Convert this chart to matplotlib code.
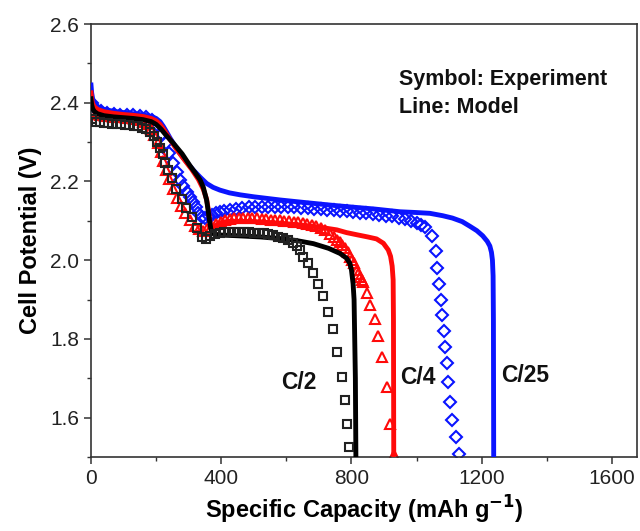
import matplotlib
matplotlib.use("Agg")
import matplotlib.pyplot as plt
from matplotlib.ticker import MultipleLocator, FormatStrFormatter

plt.rcParams['font.family'] = ['Liberation Sans', 'DejaVu Sans']

# ---- model curves (lines) ----
c25_model_cap = [0, 2, 5, 10, 20, 40, 70, 100, 130, 160, 185, 200, 212, 222, 232, 243, 258, 273,
                 293, 314, 335, 355, 375, 396, 425, 458, 500, 580, 650, 734, 800, 870, 949, 1000,
                 1041, 1080, 1110, 1140, 1164, 1185, 1203, 1217, 1225, 1230, 1233, 1235, 1236, 1237]
c25_model_v = [2.445, 2.425, 2.41, 2.398, 2.39, 2.383, 2.378, 2.375, 2.372, 2.369, 2.365, 2.36,
               2.352, 2.34, 2.326, 2.31, 2.29, 2.271, 2.25, 2.229, 2.211, 2.195, 2.185, 2.178,
               2.171, 2.166, 2.161, 2.153, 2.147, 2.14, 2.135, 2.13, 2.123, 2.121, 2.119, 2.113,
               2.107, 2.098, 2.086, 2.075, 2.062, 2.048, 2.036, 2.02, 2.0, 1.96, 1.85, 1.45]

c4_model_cap = [0, 2, 5, 10, 20, 40, 70, 100, 130, 160, 185, 200, 212, 225, 240, 260, 285, 310,
                330, 345, 355, 360, 364, 367, 370, 374, 380, 390, 405, 430, 500, 580, 650, 700,
                755, 785, 820, 850, 877, 898, 913, 920, 925, 928, 929, 930]
c4_model_v = [2.425, 2.41, 2.398, 2.39, 2.383, 2.377, 2.373, 2.37, 2.368, 2.365, 2.36, 2.354,
              2.345, 2.33, 2.31, 2.285, 2.257, 2.23, 2.205, 2.18, 2.155, 2.13, 2.105, 2.09,
              2.083, 2.082, 2.086, 2.092, 2.097, 2.099, 2.098, 2.094, 2.089, 2.084, 2.077, 2.07,
              2.064, 2.059, 2.054, 2.043, 2.026, 2.01, 1.985, 1.95, 1.85, 1.45]

c2_model_cap = [0, 2, 5, 10, 20, 40, 70, 100, 130, 160, 185, 200, 215, 230, 253, 280, 304, 320,
                335, 345, 355, 360, 364, 368, 372, 378, 396, 450, 520, 580, 630, 683, 730, 765,
                785, 795, 800, 805, 808, 810, 812, 814]
c2_model_v = [2.41, 2.395, 2.385, 2.378, 2.372, 2.367, 2.364, 2.362, 2.36, 2.357, 2.352, 2.345,
              2.333, 2.318, 2.297, 2.27, 2.24, 2.222, 2.204, 2.185, 2.153, 2.125, 2.1, 2.08,
              2.07, 2.066, 2.064, 2.062, 2.059, 2.055, 2.05, 2.042, 2.03, 2.017, 2.005, 1.992,
              1.975, 1.94, 1.9, 1.8, 1.7, 1.45]

# ---- experimental points (symbols) ----
c2_exp_cap = [3, 14, 27, 40, 53, 66, 79, 92, 105, 118, 131, 144, 157, 170, 182, 192, 202, 212,
              220, 227, 236, 248, 261, 278, 292, 309, 325, 340, 352, 365, 380, 395, 410, 425,
              440, 455, 470, 485, 500, 515, 530, 545, 560, 575, 590, 605, 621, 633, 642, 652,
              667, 683, 698, 713, 728, 742, 757, 770, 779, 787, 793]
c2_exp_v = [2.358, 2.352, 2.350, 2.349, 2.348, 2.347, 2.346, 2.345, 2.344, 2.343, 2.342, 2.340,
            2.337, 2.333, 2.326, 2.316, 2.300, 2.285, 2.270, 2.248, 2.228, 2.208, 2.180, 2.155,
            2.132, 2.109, 2.081, 2.058, 2.055, 2.062, 2.066, 2.069, 2.071, 2.072, 2.072, 2.072,
            2.072, 2.071, 2.070, 2.069, 2.068, 2.066, 2.063, 2.060, 2.056, 2.050, 2.043, 2.035,
            2.026, 2.009, 1.992, 1.968, 1.939, 1.908, 1.869, 1.824, 1.767, 1.704, 1.646, 1.585,
            1.526]

c4_exp_cap = [4, 16, 29, 42, 55, 68, 81, 94, 107, 120, 133, 146, 159, 172, 184, 195, 205, 214,
              222, 230, 240, 252, 264, 277, 290, 303, 318, 332, 345, 357, 370, 384, 398, 412,
              426, 440, 454, 468, 482, 496, 510, 524, 538, 552, 566, 580, 594, 608, 622, 636,
              650, 664, 678, 692, 706, 720, 734, 745, 755, 764, 772, 780, 788, 795, 802, 809,
              816, 821, 826, 831, 836, 847, 857, 872, 882, 895, 908, 918, 930]
c4_exp_v = [2.378, 2.372, 2.369, 2.367, 2.366, 2.365, 2.364, 2.363, 2.362, 2.361, 2.359, 2.356,
            2.352, 2.345, 2.334, 2.318, 2.298, 2.275, 2.252, 2.230, 2.205, 2.180, 2.158, 2.138,
            2.120, 2.102, 2.088, 2.078, 2.075, 2.078, 2.085, 2.092, 2.097, 2.101, 2.104, 2.106,
            2.107, 2.107, 2.107, 2.107, 2.106, 2.105, 2.104, 2.103, 2.102, 2.101, 2.100, 2.099,
            2.098, 2.096, 2.094, 2.092, 2.090, 2.087, 2.083, 2.077, 2.066, 2.058, 2.051, 2.045,
            2.039, 2.030, 2.022, 2.009, 2.000, 1.992, 1.975, 1.966, 1.958, 1.950, 1.945, 1.916,
            1.886, 1.850, 1.808, 1.755, 1.679, 1.585, 1.505]

c25_exp_cap = [3, 15, 30, 50, 70, 90, 110, 130, 150, 170, 188, 204, 218, 230, 241, 252, 263, 273,
               284, 294, 304, 314, 322, 330, 340, 350, 361, 371, 383, 396, 410, 427, 445, 465,
               485, 505, 525, 545, 565, 585, 605, 625, 645, 665, 685, 705, 725, 745, 765, 785,
               805, 825, 845, 865, 885, 905, 925, 945, 965, 983, 1000, 1013, 1026, 1047, 1059,
               1064, 1069, 1074, 1079, 1084, 1088, 1092, 1096, 1102, 1109, 1120, 1131]
c25_exp_v = [2.400, 2.385, 2.378, 2.374, 2.372, 2.370, 2.369, 2.368, 2.366, 2.363, 2.357, 2.343,
             2.320, 2.297, 2.272, 2.246, 2.224, 2.204, 2.188, 2.174, 2.161, 2.149, 2.134, 2.119,
             2.109, 2.106, 2.111, 2.115, 2.119, 2.123, 2.126, 2.128, 2.130, 2.132, 2.134, 2.135,
             2.136, 2.136, 2.136, 2.136, 2.135, 2.134, 2.133, 2.132, 2.131, 2.130, 2.128, 2.127,
             2.126, 2.124, 2.122, 2.120, 2.119, 2.117, 2.115, 2.113, 2.111, 2.108, 2.105, 2.100,
             2.095, 2.090, 2.085, 2.061, 2.023, 1.981, 1.940, 1.900, 1.860, 1.820, 1.780, 1.740,
             1.690, 1.640, 1.594, 1.552, 1.508]

rate_labels = ["C/2", "C/4", "C/25"]
rate_label_cap = [585, 948, 1260]
rate_label_v = [1.69, 1.703, 1.708]

fig = plt.figure(figsize=(6.4, 5.31), dpi=100)
ax = fig.add_axes([0.1422, 0.1394, 0.8531, 0.8154])

blue = '#0a14ff'
red = '#ff0a0a'
black = '#000000'

ax.plot(c25_exp_cap, c25_exp_v, ls='none', marker='D', ms=5.8, mfc='none', mec=blue, mew=1.5,
        zorder=2)
ax.plot(c4_exp_cap, c4_exp_v, ls='none', marker='^', ms=7.0, mfc='none', mec=red, mew=1.5,
        zorder=2)
ax.plot(c25_model_cap, c25_model_v, color=blue, lw=3.5, zorder=3)
ax.plot(c4_model_cap, c4_model_v, color=red, lw=3.5, zorder=3)
ax.plot(c2_model_cap, c2_model_v, color=black, lw=3.5, zorder=4)
ax.plot(c2_exp_cap, c2_exp_v, ls='none', marker='s', ms=5.6, mfc='none', mec='#222222', mew=1.5,
        zorder=5)

for lab, cx, cy in zip(rate_labels, rate_label_cap, rate_label_v):
    ax.text(cx, cy, lab, fontsize=16.5, fontweight='bold', ha='left', va='center',
            color='#111111')

ax.text(0.565, 0.871, "Symbol: Experiment", transform=ax.transAxes, fontsize=15.5,
        fontweight='bold', ha='left', va='center', color='#111111')
ax.text(0.565, 0.806, "Line: Model", transform=ax.transAxes, fontsize=15.5,
        fontweight='bold', ha='left', va='center', color='#111111')

ax.set_xlim(0, 1677)
ax.set_ylim(1.5, 2.6)
ax.xaxis.set_major_locator(MultipleLocator(400))
ax.xaxis.set_minor_locator(MultipleLocator(200))
ax.yaxis.set_major_locator(MultipleLocator(0.2))
ax.yaxis.set_minor_locator(MultipleLocator(0.1))
ax.yaxis.set_major_formatter(FormatStrFormatter('%.1f'))

for s in ax.spines.values():
    s.set_linewidth(1.2)
    s.set_color('#333333')
ax.tick_params(which='major', direction='out', length=5, width=1.1, labelsize=15,
               colors='#333333', labelcolor='#222222', top=False, right=False)
ax.tick_params(which='minor', direction='out', length=3, width=1.0, colors='#333333',
               top=False, right=False)

ax.set_xlabel("Specific Capacity (mAh g$^{\\mathbf{-1}}$)", fontsize=17, fontweight='bold',
              labelpad=4)
ax.set_ylabel("Cell Potential (V)", fontsize=17, fontweight='bold', labelpad=6)

fig.savefig("out.png", dpi=100)
